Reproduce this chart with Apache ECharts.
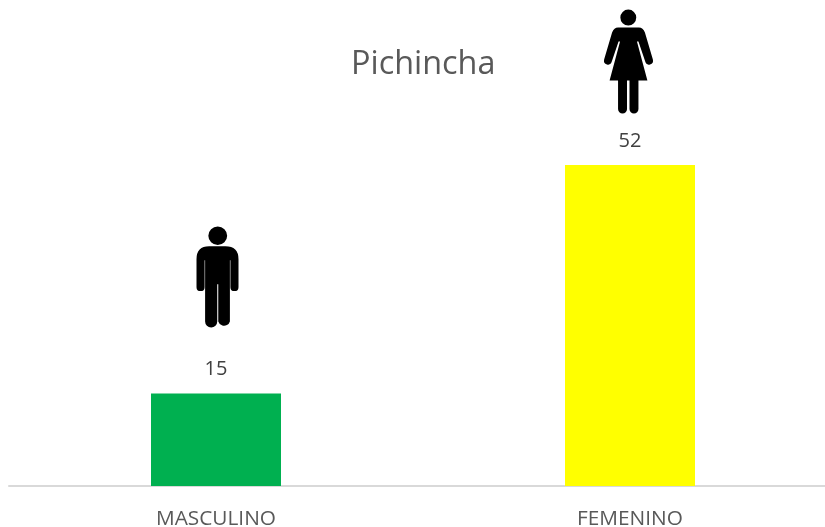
<!DOCTYPE html>
<html><head><meta charset="utf-8">
<style>html,body{margin:0;padding:0;background:#fff}#c{width:825px;height:527px}</style>
<script src="https://cdn.jsdelivr.net/npm/echarts@6/dist/echarts.min.js"></script>
</head><body><div id="c"></div>
<script>
const titleText = 'Pichincha';
const categories = ['MASCULINO', 'FEMENINO'];
const values = [15, 52];
const barColors = ['#00B050', '#FFFF00'];
const manPath = 'path://M21.5,0A9.3,9.3 0 1 1 21.49,0ZM13,20H29Q42,20 42,33V61A4,4 0 0 1 34,61V34H33.5V95.5A6,6 0 0 1 22,95.5V58H21V95.5A6,6 0 0 1 9,95.5V34H8.5V61A4,4 0 0 1 0.5,61V33Q0.5,20 13,20Z';
const womanPath = 'path://M24.3,0A8,8 0 1 1 24.29,0ZM14,18H35Q39,18 41,23L49,50A3.9,3.9 0 0 1 41.3,52L34.5,32H33L43.5,71H34.5V99.5A4.5,4.5 0 0 1 25.5,99.5V71H23V99.5A4.5,4.5 0 0 1 14,99.5V71H5.5L16,32H14.5L7.7,52A3.9,3.9 0 0 1 0,50L8,23Q10,18 14,18Z';
const font = '"Open Sans", sans-serif';
const chart = echarts.init(document.getElementById('c'), null, {renderer: 'canvas'});
chart.setOption({
  animation: false,
  title: {text: titleText, left: 351, top: 43, padding: 0,
    textStyle: {fontFamily: font, fontSize: 32.4, fontWeight: 'normal', color: '#595959', lineHeight: 44}},
  grid: {left: 9, width: 828, top: 54, height: 432, outerBoundsMode: 'none'},
  xAxis: {type: 'category', data: categories, offset: 1,
    axisLine: {show: true, lineStyle: {color: '#D9D9D9', width: 2}}, axisTick: {show: false},
    axisLabel: {fontFamily: font, fontSize: 20.8, color: '#595959', margin: 22}},
  yAxis: {type: 'value', min: 0, max: 70, show: false, splitLine: {show: false}},
  series: [
    {type: 'bar', barWidth: 130,
     data: values.map((v, i) => ({value: v, itemStyle: {color: barColors[i]}})),
     label: {show: true, position: 'top', distance: 14, fontFamily: font, fontSize: 20, color: '#404040'}},
    {type: 'scatter', clip: false, silent: true,
     data: [
       {value: [0, values[0]], symbol: manPath, symbolSize: [42, 101], symbolOffset: [1.5, -116.5]},
       {value: [1, values[1]], symbol: womanPath, symbolSize: [49, 104], symbolOffset: [-1.5, -103.5]}
     ],
     itemStyle: {color: '#000', opacity: 1}}
  ]
});
</script></body></html>
